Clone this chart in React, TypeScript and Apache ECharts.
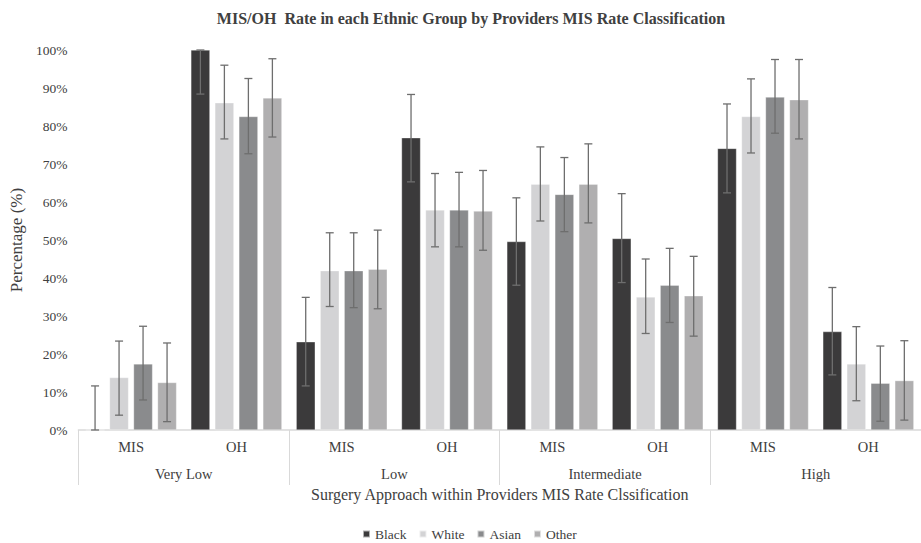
import React, { useEffect, useRef } from "react";
import * as echarts from "echarts";

const categories = ["MIS", "OH", "MIS", "OH", "MIS", "OH", "MIS", "OH"];
const groups = ["Very Low", "Low", "Intermediate", "High"];
const seriesNames = ["Black", "White", "Asian", "Other"];

const black = [0, 100, 23.2, 76.9, 49.6, 50.4, 74.1, 25.9];
const blackLow = [0, 88.4, 11.6, 65.3, 38.1, 38.8, 62.4, 14.5];
const blackHigh = [11.6, 100, 34.9, 88.3, 61.1, 62.2, 85.8, 37.5];

const white = [13.8, 86.1, 41.9, 57.9, 64.7, 35.0, 82.5, 17.4];
const whiteLow = [3.9, 76.6, 32.5, 48.2, 55.0, 25.4, 72.9, 7.7];
const whiteHigh = [23.4, 96.0, 51.9, 67.5, 74.5, 45.0, 92.4, 27.2];

const asian = [17.4, 82.5, 41.9, 57.9, 62.0, 38.1, 87.6, 12.3];
const asianLow = [7.9, 72.7, 32.2, 48.2, 52.2, 28.3, 78.1, 2.3];
const asianHigh = [27.3, 92.5, 51.9, 67.8, 71.7, 47.8, 97.5, 22.1];

const other = [12.5, 87.4, 42.3, 57.6, 64.7, 35.3, 86.9, 13.0];
const otherLow = [2.2, 77.1, 31.9, 47.3, 54.5, 24.7, 76.6, 2.6];
const otherHigh = [22.9, 97.7, 52.6, 68.3, 75.3, 45.7, 97.5, 23.5];

const colors = ["#3b3a3b", "#d3d3d5", "#8a8b8d", "#b0afb0"];

const FONT = "Liberation Serif";
const BAR_W = 19;
const BAR_GAP = 5;

export default function App() {
  const ref = useRef<HTMLDivElement>(null);
  useEffect(() => {
    if (!ref.current) return;
    const chart = echarts.init(ref.current, null, { renderer: "svg" });
    const values = [black, white, asian, other];
    const lows = [blackLow, whiteLow, asianLow, otherLow];
    const highs = [blackHigh, whiteHigh, asianHigh, otherHigh];

    const bars = seriesNames.map((name, s) => ({
      name,
      type: "bar",
      xAxisIndex: 0,
      barWidth: BAR_W,
      barGap: (BAR_GAP / BAR_W) * 100 + "%",
      itemStyle: { color: colors[s], borderColor: "rgba(255,255,255,0.6)", borderWidth: 0.5 },
      data: values[s],
    }));

    const errs = seriesNames.map((name, s) => ({
      name: name + " error",
      type: "custom",
      xAxisIndex: 0,
      z: 5,
      encode: { x: 0, y: [2, 3] },
      data: categories.map((_, i) => [i, values[s][i], lows[s][i], highs[s][i]]),
      renderItem: (params: any, api: any) => {
        const i = api.value(0);
        const lo = api.coord([i, api.value(2)]);
        const hi = api.coord([i, api.value(3)]);
        const offset = (s - 1.5) * (BAR_W + BAR_GAP);
        const x = lo[0] + offset;
        const cap = 4;
        const st = { stroke: "#6e6e6e", lineWidth: 1.3 };
        return {
          type: "group",
          children: [
            { type: "line", shape: { x1: x, y1: lo[1], x2: x, y2: hi[1] }, style: st },
            { type: "line", shape: { x1: x - cap, y1: lo[1], x2: x + cap, y2: lo[1] }, style: st },
            { type: "line", shape: { x1: x - cap, y1: hi[1], x2: x + cap, y2: hi[1] }, style: st },
          ],
        };
      },
    }));

    chart.setOption({
      animation: false,
      backgroundColor: "#ffffff",
      textStyle: { fontFamily: FONT },
      graphic: [
        {
          type: "text",
          x: 471,
          y: 18,
          style: {
            text: "MIS/OH  Rate in each Ethnic Group by Providers MIS Rate Classification",
            fontFamily: FONT,
            fontSize: 16,
            fontWeight: "bold",
            fill: "#404040",
            textAlign: "center",
            textVerticalAlign: "middle",
          },
        },
      ],
      legend: {
        data: seriesNames,
        left: 362,
        top: 527,
        padding: 0,
        itemWidth: 7,
        itemHeight: 7,
        itemGap: 12,
        icon: "rect",
        textStyle: { fontFamily: FONT, fontSize: 13.5, color: "#404040" },
      },
      grid: { left: 77, top: 50, width: 856, height: 380 },
      xAxis: [
        {
          type: "category",
          data: categories,
          axisLine: { lineStyle: { color: "#d9d9d9", width: 1.5 } },
          axisTick: { show: false },
          axisLabel: { fontFamily: FONT, fontSize: 14.5, color: "#404040", margin: 9, interval: 0 },
        },
        {
          type: "category",
          data: groups,
          position: "bottom",
          axisLine: { show: false },
          axisTick: { show: true, length: 55, interval: 0, lineStyle: { color: "#d9d9d9", width: 1 } },
          axisLabel: { fontFamily: FONT, fontSize: 14.5, color: "#404040", margin: 36, interval: 0 },
          name: "Surgery Approach within Providers MIS Rate Clssification",
          nameLocation: "middle",
          nameGap: 56,
          nameTextStyle: { fontFamily: FONT, fontSize: 16, color: "#404040" },
        },
      ],
      yAxis: {
        type: "value",
        min: 0,
        max: 100,
        interval: 10,
        axisLine: { show: false },
        axisTick: { show: false },
        splitLine: { show: false },
        axisLabel: { formatter: "{value}%", fontFamily: FONT, fontSize: 13.5, color: "#404040", margin: 11 },
        name: "Percentage (%)",
        nameLocation: "middle",
        nameGap: 53,
        nameRotate: 90,
        nameTextStyle: { fontFamily: FONT, fontSize: 17, color: "#404040" },
      },
      series: [...bars, ...errs],
    });
    return () => chart.dispose();
  }, []);
  return (
    <div
      ref={ref}
      style={{ position: "fixed", left: 0, top: 0, width: 921, height: 543, background: "#fff" }}
    />
  );
}
